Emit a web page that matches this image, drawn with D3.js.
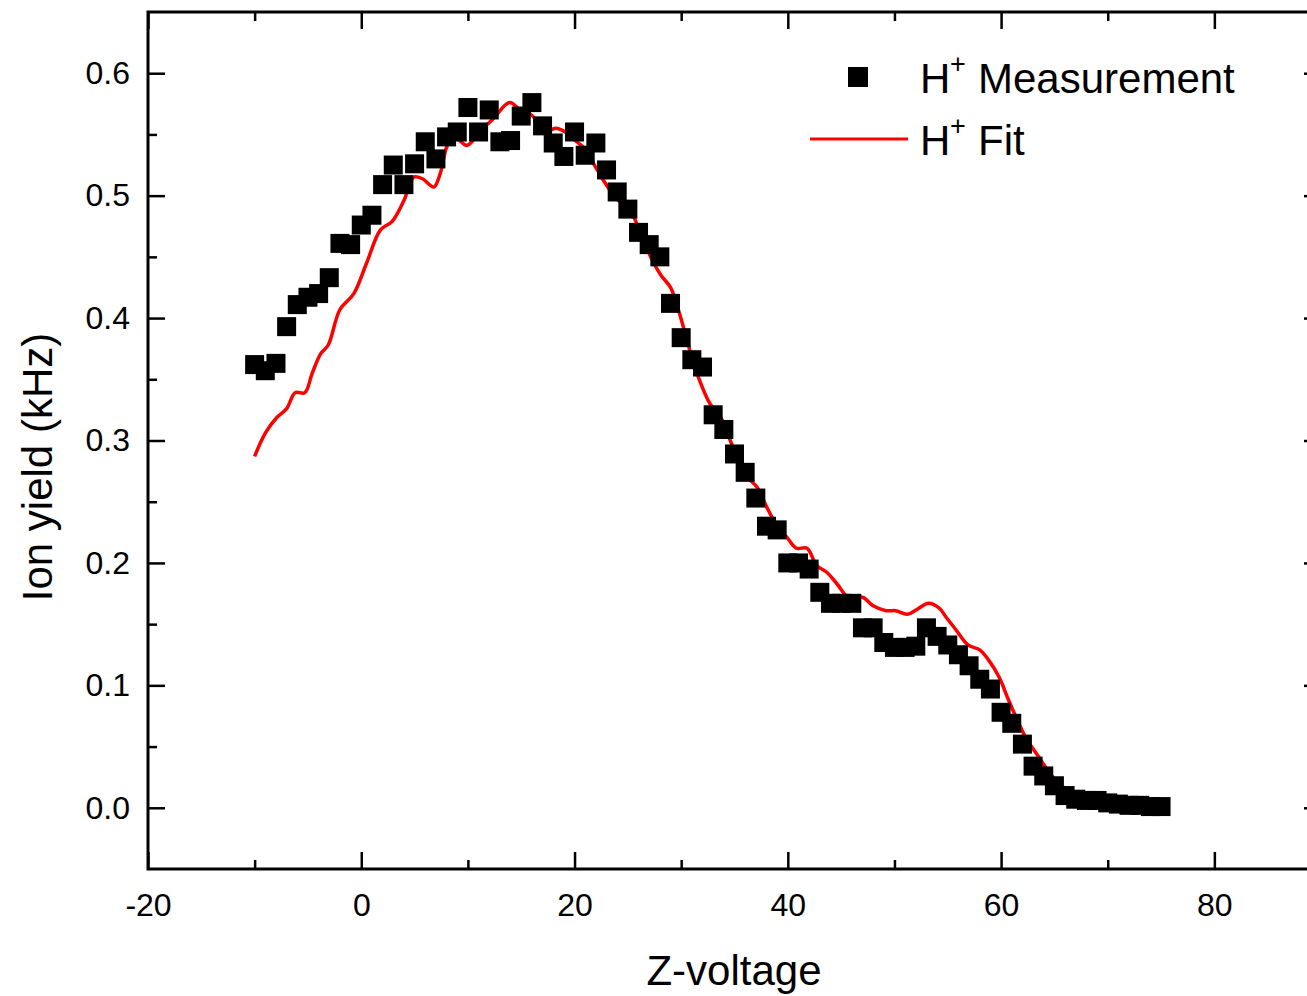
<!DOCTYPE html>
<html>
<head>
<meta charset="utf-8">
<script src="https://cdn.jsdelivr.net/npm/d3@7"></script>
<style>
  body { margin: 0; background: #fff; }
  text { font-family: Arial, "Liberation Sans", sans-serif; fill: #000; }
</style>
</head>
<body>
<svg id="chart"></svg>
<script>
// H+ measurement, one point per volt
var measX = [-10,-9,-8,-7,-6,-5,-4,-3,-2,-1,0,1,2,3,4,5,6,7,8,9,10,11,12,13,14,15,16,17,18,19,
  20,21,22,23,24,25,26,27,28,29,30,31,32,33,34,35,36,37,38,39,40,41,42,43,44,45,46,47,48,49,
  50,51,52,53,54,55,56,57,58,59,60,61,62,63,64,65,66,67,68,69,70,71,72,73,74,75];
var measY = [0.362,0.357,0.363,0.393,0.411,0.417,0.420,0.433,0.461,0.460,0.476,0.484,0.509,0.525,0.509,
  0.526,0.544,0.530,0.548,0.552,0.572,0.552,0.570,0.544,0.545,0.565,0.576,0.557,0.543,0.532,
  0.552,0.533,0.543,0.521,0.503,0.489,0.470,0.460,0.450,0.412,0.384,0.366,0.360,0.321,0.309,
  0.289,0.274,0.253,0.230,0.227,0.200,0.200,0.195,0.176,0.167,0.167,0.167,0.147,0.147,0.135,
  0.131,0.131,0.132,0.147,0.140,0.133,0.125,0.116,0.105,0.097,0.078,0.069,0.052,0.034,0.026,
  0.018,0.010,0.007,0.006,0.006,0.004,0.003,0.002,0.002,0.001,0.001];

// H+ fit curve
var fitX = [-10,-9,-7.9,-7,-6.2,-5.3,-4.6,-3.8,-3.1,-2,-0.7,0.5,1.8,2.9,4,4.9,5.7,6.8,7.4,8.2,9,9.9,
  11.2,12.4,13.9,14.9,15.8,16.6,17.4,18.3,19.3,20.2,21,21.8,22.6,23.7,24.6,25.4,26.2,27.3,28.1,29,
  29.8,30.8,31.6,32.7,33.7,34.6,35.5,36.2,37.1,38,39,39.9,40.8,41.8,42.7,43.7,44.6,45.9,47,48,49.2,
  50.1,51.2,52.1,53.2,54.2,54.9,55.8,56.9,58,58.8,59.8,60.7,61.5,62.4,63.5,64.6,65.8,67.1,68.6,70.2,
  71.8,73.3,75];
var fitY = [0.287,0.306,0.319,0.326,0.339,0.339,0.355,0.371,0.378,0.407,0.420,0.445,0.472,0.479,0.496,
  0.515,0.514,0.507,0.518,0.543,0.546,0.541,0.553,0.563,0.576,0.570,0.567,0.560,0.553,0.555,0.551,
  0.544,0.538,0.526,0.514,0.500,0.492,0.485,0.469,0.447,0.435,0.425,0.405,0.374,0.352,0.330,0.319,
  0.300,0.281,0.270,0.262,0.246,0.230,0.221,0.212,0.212,0.198,0.192,0.183,0.170,0.172,0.165,0.161,
  0.161,0.158,0.162,0.167,0.163,0.155,0.145,0.133,0.129,0.121,0.107,0.088,0.072,0.056,0.042,0.028,
  0.017,0.011,0.008,0.003,0.003,0.001,0.001];

var xMajor = [-20,0,20,40,60,80];
var xMinor = [-10,10,30,50,70];
var yMajor = [0.0,0.1,0.2,0.3,0.4,0.5,0.6];
var yMinor = [0.05,0.15,0.25,0.35,0.45,0.55];

(function() {
var W = 1307, H = 996;
var mLeft = 148, mRight = 1321, mTop = 12, mBottom = 869;

var svg = d3.select("#chart").attr("width", W).attr("height", H);

var x = d3.scaleLinear().domain([-20, 90]).range([mLeft, mRight]);
var y = d3.scaleLinear().domain([-0.05, 0.65]).range([mBottom, mTop]);

// fit line
var line = d3.line()
    .x(function(d) { return x(d[0]); })
    .y(function(d) { return y(d[1]); })
    .curve(d3.curveCatmullRom.alpha(0.5));
var fitData = fitX.map(function(v, i) { return [v, fitY[i]]; });
svg.append("path")
    .datum(fitData)
    .attr("d", line)
    .attr("fill", "none")
    .attr("stroke", "#ff0000")
    .attr("stroke-width", 3.5);

// measurement squares
var sq = 19;
svg.selectAll(".pt")
    .data(measX.map(function(v, i) { return [v, measY[i]]; }))
    .enter().append("rect")
    .attr("class", "pt")
    .attr("x", function(d) { return x(d[0]) - sq / 2; })
    .attr("y", function(d) { return y(d[1]) - sq / 2; })
    .attr("width", sq)
    .attr("height", sq)
    .attr("fill", "#000");

// axes, ticks pointing inward on all four sides
function styleAxis(g) {
    g.attr("font-family", null).attr("font-size", null);
    g.select(".domain").remove();
    g.selectAll(".tick line").attr("stroke", "#000").attr("stroke-width", 2.5);
    g.selectAll(".tick text").style("font-size", "32px").attr("fill", "#000");
}
var fmtY = d3.format(".1f");
var fmtX = function(d) { return String(d); };

svg.append("g").attr("transform", "translate(0," + mBottom + ")")
    .call(d3.axisBottom(x).tickValues(xMajor).tickSize(-17).tickPadding(24).tickFormat(fmtX))
    .call(styleAxis);
svg.append("g").attr("transform", "translate(0," + mBottom + ")")
    .call(d3.axisBottom(x).tickValues(xMinor).tickSize(-9).tickFormat(""))
    .call(styleAxis);
svg.append("g").attr("transform", "translate(0," + mTop + ")")
    .call(d3.axisTop(x).tickValues(xMajor).tickSize(-17).tickFormat(""))
    .call(styleAxis);
svg.append("g").attr("transform", "translate(0," + mTop + ")")
    .call(d3.axisTop(x).tickValues(xMinor).tickSize(-9).tickFormat(""))
    .call(styleAxis);

svg.append("g").attr("transform", "translate(" + mLeft + ",0)")
    .call(d3.axisLeft(y).tickValues(yMajor).tickSize(-17).tickPadding(18).tickFormat(fmtY))
    .call(styleAxis);
svg.append("g").attr("transform", "translate(" + mLeft + ",0)")
    .call(d3.axisLeft(y).tickValues(yMinor).tickSize(-9).tickFormat(""))
    .call(styleAxis);
svg.append("g").attr("transform", "translate(" + mRight + ",0)")
    .call(d3.axisRight(y).tickValues(yMajor).tickSize(-17).tickFormat(""))
    .call(styleAxis);
svg.append("g").attr("transform", "translate(" + mRight + ",0)")
    .call(d3.axisRight(y).tickValues(yMinor).tickSize(-9).tickFormat(""))
    .call(styleAxis);

// frame
svg.append("rect")
    .attr("x", mLeft).attr("y", mTop)
    .attr("width", mRight - mLeft).attr("height", mBottom - mTop)
    .attr("fill", "none").attr("stroke", "#000").attr("stroke-width", 3);

// axis titles
svg.append("text")
    .attr("x", 734).attr("y", 985)
    .attr("text-anchor", "middle")
    .style("font-size", "42px")
    .text("Z-voltage");
svg.append("text")
    .attr("transform", "translate(52,467) rotate(-90)")
    .attr("text-anchor", "middle")
    .style("font-size", "42px")
    .text("Ion yield (kHz)");

// legend
var lg = svg.append("g");
lg.append("rect").attr("x", 848).attr("y", 67).attr("width", 20).attr("height", 20).attr("fill", "#000");
lg.append("line").attr("x1", 810).attr("x2", 908).attr("y1", 139).attr("y2", 139)
    .attr("stroke", "#ff0000").attr("stroke-width", 3);
[["Measurement", 93], ["Fit", 155]].forEach(function(r) {
    lg.append("text").attr("x", 920).attr("y", r[1]).style("font-size", "42px").text("H");
    lg.append("text").attr("x", 950).attr("y", r[1] - 20).style("font-size", "27px").text("+");
    lg.append("text").attr("x", 978).attr("y", r[1]).style("font-size", "42px").text(r[0]);
});
})();
</script>
</body>
</html>
